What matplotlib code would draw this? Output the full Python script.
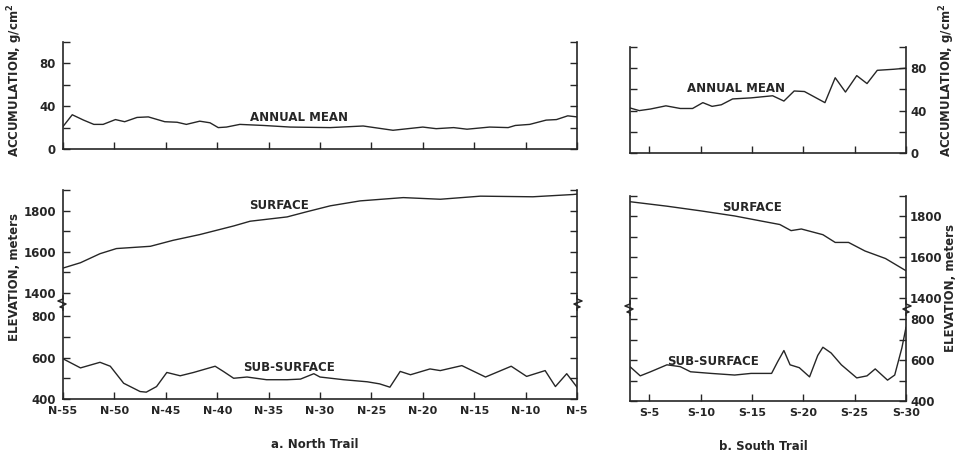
import matplotlib
matplotlib.use("Agg")
import matplotlib.pyplot as plt
from matplotlib.lines import Line2D

# station numbers (N-xx / S-xx) and values
north_acc_st = [55, 54.1, 53, 52, 51.1, 49.9, 49, 47.8, 46.7, 45.1, 43.9, 43, 41.7, 40.7, 39.9, 39.1,
                37.8, 35.5, 32.9, 29, 25.8, 22.9, 20, 18.7, 17, 15.7, 13.5, 11.7, 11, 9.6, 8, 7, 5.9, 5]
north_acc = [21, 32, 27, 23, 23, 27.5, 25.5, 29.5, 30, 25.5, 25, 23, 26, 24.5, 20, 20.5,
             23, 22, 20.5, 20, 21.5, 17.5, 20.5, 19, 20, 18.5, 20.5, 20, 22, 23, 27, 27.5, 31, 30]

north_surf_st = [55, 53.3, 51.4, 49.8, 46.5, 44.3, 41.7, 38.4, 36.8, 33.2, 31.3, 29, 26.1, 21.9,
                 18.3, 14.4, 9.3, 5.4, 5]
north_surf = [1520, 1546, 1590, 1615, 1626, 1655, 1683, 1725, 1748, 1769, 1794, 1823, 1847, 1863,
              1855, 1870, 1867, 1878, 1880]

north_sub_st = [55, 53.3, 51.4, 50.4, 49.1, 47.5, 46.9, 45.9, 44.9, 43.6, 42.3, 40.2, 39.4, 38.4,
                37.1, 35.2, 33.2, 31.9, 30.6, 30, 27.7, 25.4, 24.2, 23.2, 22.2, 21.2, 19.3, 18.3,
                16.2, 13.9, 11.4, 9.9, 8.1, 7.1, 6, 5]
north_sub = [594, 550, 577, 558, 476, 436, 433, 460, 528, 512, 528, 558, 533, 500,
             506, 493, 493, 496, 522, 506, 493, 483, 473, 457, 533, 517, 545, 537,
             561, 506, 558, 509, 537, 460, 522, 457]

south_acc_st = [3.1, 4, 5.1, 6.6, 8, 9.2, 10.2, 11.1, 12, 13.1, 14.9, 17, 18.1, 19.1, 20.1, 22.1,
                23.1, 24.1, 25.2, 26.2, 27.2, 28.8, 30]
south_acc = [42.5, 40, 41.5, 44.5, 42, 42, 47.5, 44, 45.5, 51, 52, 54, 49, 58.5, 58, 47.5,
             71, 57.5, 73, 65.5, 78, 79, 80]

south_surf_st = [3.1, 6.7, 10, 13.3, 15.9, 17.7, 18.8, 19.8, 21.9, 23.1, 24.4, 26, 28, 30]
south_surf = [1872, 1850, 1827, 1802, 1777, 1760, 1730, 1738, 1710, 1672, 1672, 1630, 1593, 1533]

south_sub_st = [3.1, 4.1, 5.1, 6.7, 8, 9, 11, 13.3, 14.9, 16.9, 17.5, 18.1, 18.7, 19.6, 20.6,
                21.4, 21.9, 22.7, 23.7, 25.2, 26.2, 27, 28.2, 28.9, 29.6, 30]
south_sub = [568, 523, 543, 577, 568, 543, 535, 527, 535, 535, 593, 647, 577, 563, 518,
             623, 663, 635, 577, 513, 523, 557, 502, 527, 660, 760]

north_ticks = list(range(55, 4, -5))
south_ticks = list(range(5, 31, 5))

ink = "#262626"
W, H = 958, 455
plt.rcParams["font.family"] = "DejaVu Sans"
plt.rcParams["font.weight"] = "bold"
plt.rcParams["font.size"] = 8

fig = plt.figure(figsize=(W / 100, H / 100), dpi=100)
fig.patch.set_facecolor("white")


def box(x0, y0, x1, y1):
    # pixel box (top-left origin) -> figure fraction rect
    return [x0 / W, 1 - y1 / H, (x1 - x0) / W, (y1 - y0) / H]


def style(ax, side, bottom=True):
    for s in ax.spines.values():
        s.set_color(ink)
        s.set_linewidth(1.2)
    ax.spines["top"].set_visible(False)
    ax.spines["bottom"].set_visible(bottom)
    ax.tick_params(axis="y", direction="in", length=5, width=1, color=ink, left=True, right=True,
                   labelleft=(side == "left"), labelright=(side == "right"),
                   pad=5 if side == "left" else 3, labelsize=8.5, labelcolor=ink)
    ax.tick_params(axis="x", direction="in", length=5, width=1, color=ink, pad=5,
                   labelsize=8, labelcolor=ink)


def zigzag(xp, yp, out):
    dx = [0, 0, -5, 3, -3, 0, 0]
    dy = [-7, -4, -2, 1, 4, 5, 7]
    xs = [(xp + out * d) / W for d in dx]
    ys = [1 - (yp + d) / H for d in dy]
    fig.add_artist(Line2D(xs, ys, color=ink, lw=1.1, transform=fig.transFigure))


# ---------- a. North Trail ----------
ax = fig.add_axes(box(63, 42, 577, 149))
ax.plot(north_acc_st, north_acc, color=ink, lw=1.0)
ax.set_xlim(55, 5)
ax.set_ylim(0, 100)
ax.set_yticks([0, 20, 40, 60, 80, 100], ["0", "", "40", "", "80", ""])
ax.set_xticks(north_ticks, [""] * len(north_ticks))
style(ax, "left")
ax.text(32, 29, "ANNUAL MEAN", ha="center", va="center", fontsize=8.5, color=ink)

ax = fig.add_axes(box(63, 190, 577, 303))
ax.plot(north_surf_st, north_surf, color=ink, lw=1.0)
ax.set_xlim(55, 5)
ax.set_ylim(1350, 1900)
ax.set_yticks([1400, 1500, 1600, 1700, 1800, 1900], ["1400", "", "1600", "", "1800", ""])
ax.set_xticks([])
style(ax, "left", bottom=False)
ax.text(34, 1826, "SURFACE", ha="center", va="center", fontsize=8.5, color=ink)

ax = fig.add_axes(box(63, 303, 577, 399))
ax.patch.set_alpha(0)
ax.plot(north_sub_st, north_sub, color=ink, lw=1.0)
ax.set_xlim(55, 5)
ax.set_ylim(400, 863)
ax.set_yticks([400, 500, 600, 700, 800], ["400", "", "600", "", "800"])
ax.set_xticks(north_ticks, ["N-{}".format(s) for s in north_ticks])
style(ax, "left")
ax.text(33, 550, "SUB-SURFACE", ha="center", va="center", fontsize=8.5, color=ink)

zigzag(63, 303, 1)
zigzag(577, 303, -1)

# ---------- b. South Trail ----------
ax = fig.add_axes(box(630, 47, 906, 153))
ax.plot(south_acc_st, south_acc, color=ink, lw=1.0)
ax.set_xlim(3.1, 30)
ax.set_ylim(0, 100)
ax.set_yticks([0, 20, 40, 60, 80, 100], ["0", "", "40", "", "80", ""])
ax.set_xticks(south_ticks, [""] * len(south_ticks))
style(ax, "right")
ax.text(13.4, 61, "ANNUAL MEAN", ha="center", va="center", fontsize=8.5, color=ink)

ax = fig.add_axes(box(630, 196, 906, 308))
ax.plot(south_surf_st, south_surf, color=ink, lw=1.0)
ax.set_xlim(3.1, 30)
ax.set_ylim(1350, 1900)
ax.set_yticks([1400, 1500, 1600, 1700, 1800, 1900], ["1400", "", "1600", "", "1800", ""])
ax.set_xticks([])
style(ax, "right", bottom=False)
ax.text(15, 1843, "SURFACE", ha="center", va="center", fontsize=8.5, color=ink)

ax = fig.add_axes(box(630, 308, 906, 401))
ax.patch.set_alpha(0)
ax.plot(south_sub_st, south_sub, color=ink, lw=1.0)
ax.set_xlim(3.1, 30)
ax.set_ylim(400, 855)
ax.set_yticks([400, 500, 600, 700, 800], ["400", "", "600", "", "800"])
ax.set_xticks(south_ticks, ["S-{}".format(s) for s in south_ticks])
style(ax, "right")
ax.text(11.2, 595, "SUB-SURFACE", ha="center", va="center", fontsize=8.5, color=ink)

zigzag(630, 308, 1)
zigzag(906, 308, -1)

# axis titles and captions
fig.text(15 / W, 1 - 80 / H, "ACCUMULATION, g/cm$^\\mathbf{2}$", rotation=90, ha="center", va="center",
         fontsize=8.5, color=ink)
fig.text(15 / W, 1 - 277 / H, "ELEVATION, meters", rotation=90, ha="center", va="center",
         fontsize=8.5, color=ink)
fig.text(947 / W, 1 - 80 / H, "ACCUMULATION, g/cm$^\\mathbf{2}$", rotation=90, ha="center", va="center",
         fontsize=8.5, color=ink)
fig.text(950 / W, 1 - 288 / H, "ELEVATION, meters", rotation=90, ha="center", va="center",
         fontsize=8.5, color=ink)
fig.text(315 / W, 1 - 444 / H, "a. North Trail", ha="center", va="center", fontsize=8.5, color=ink)
fig.text(763 / W, 1 - 446 / H, "b. South Trail", ha="center", va="center", fontsize=8.5, color=ink)

fig.savefig("out.png", dpi=100, facecolor="white")
